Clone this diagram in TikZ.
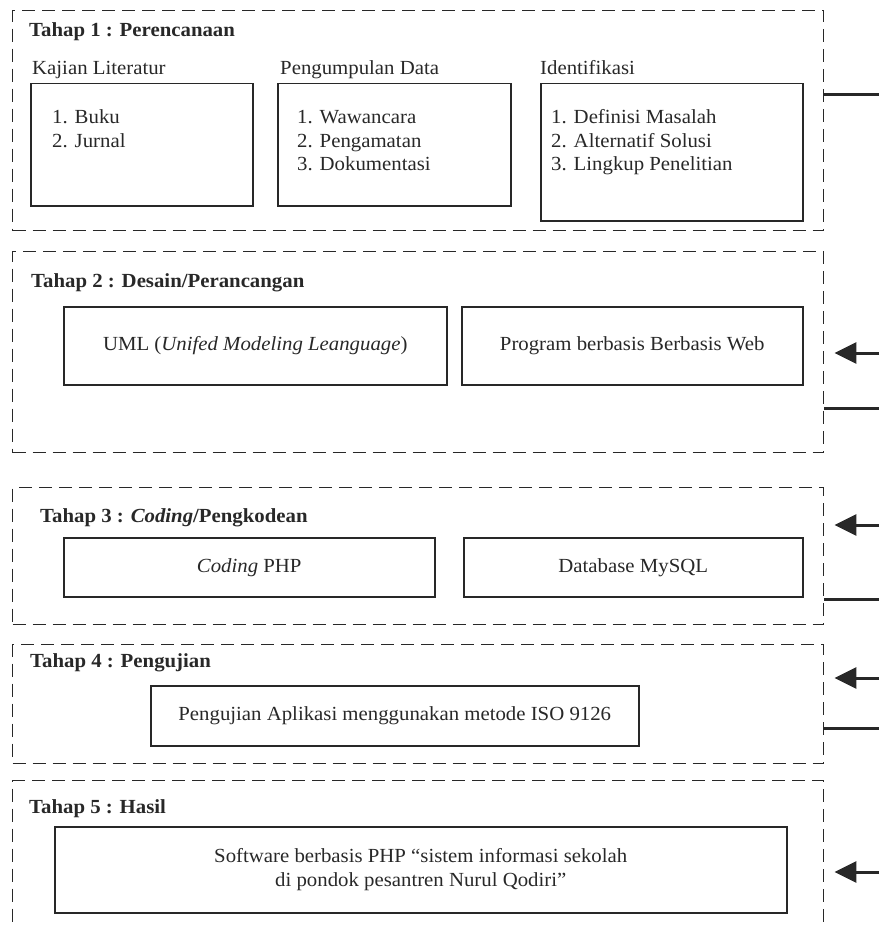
\documentclass[tikz,border=0pt]{standalone}
\usepackage{fontspec}
\setmainfont{Liberation Serif}[FakeStretch=1.04]
\usetikzlibrary{arrows.meta}
\definecolor{ink}{HTML}{282828}
\begin{document}
\begin{tikzpicture}[x=1pt,y=-1pt,
  every node/.style={font=\fontsize{20}{24}\selectfont, text=ink},
  phase/.style={draw=ink, line width=1.4pt, dash pattern=on 13pt off 7pt,
    rectangle, inner sep=0pt, anchor=north west},
  box/.style={draw=ink, line width=1.5pt, rectangle, inner sep=0pt, anchor=north west},
  ttl/.style={font=\fontsize{20}{24}\selectfont\bfseries, anchor=base west, inner sep=0pt},
  lbl/.style={anchor=base west, inner sep=0pt},
  link/.style={draw=ink, line width=3pt},
  arr/.style={draw=ink, line width=3pt, -{Triangle[length=22pt,width=21pt]}, shorten >=10pt}]
\clip (0,0) rectangle (879,928);
\useasboundingbox (0,0) rectangle (879,928);

% phase frames
\node[phase, minimum width=811, minimum height=220] (p1) at (12,10) {};
\node[phase, minimum width=811, minimum height=201] (p2) at (12,251) {};
\node[phase, minimum width=811, minimum height=137] (p3) at (12,487) {};
\node[phase, minimum width=811, minimum height=119] (p4) at (12,644) {};
\node[phase, minimum width=811, minimum height=170] (p5) at (12,780) {};

% titles
\node[ttl] (t1) at (29,37) {Tahap 1 : Perencanaan};
\node[ttl] (t2) at (31,287) {Tahap 2 : Desain/Perancangan};
\node[ttl] (t3) at (40,522) {Tahap 3 : \textit{Coding}/Pengkodean};
\node[ttl] (t4) at (30,667) {Tahap 4 : Pengujian};
\node[ttl] (t5) at (29,813) {Tahap 5 : Hasil};

% stage 1
\node[lbl] (s1) at (32,75) {Kajian Literatur};
\node[lbl] (s2) at (280,75) {Pengumpulan Data};
\node[lbl] (s3) at (540,75) {Identifikasi};
\node[box, minimum width=222, minimum height=122] (bA) at (30,83) {};
\node[box, minimum width=233, minimum height=122] (bB) at (277,83) {};
\node[box, minimum width=262, minimum height=137] (bC) at (540,83) {};
\node[lbl] (a1) at (52,124) {1. Buku};
\node[lbl] (a2) at (52,148) {2. Jurnal};
\node[lbl] (b1) at (297,124) {1. Wawancara};
\node[lbl] (b2) at (297,148) {2. Pengamatan};
\node[lbl] (b3) at (297,171) {3. Dokumentasi};
\node[lbl] (c1) at (551,124) {1. Definisi Masalah};
\node[lbl] (c2) at (551,148) {2. Alternatif Solusi};
\node[lbl] (c3) at (551,171) {3. Lingkup Penelitian};

% stage 2
\node[box, minimum width=383, minimum height=78] (uml) at (63,306) {UML (\textit{Unifed Modeling Leanguage})};
\node[box, minimum width=341, minimum height=78] (web) at (461,306) {Program berbasis Berbasis Web};

% stage 3
\node[box, minimum width=371, minimum height=59] (php) at (63,537) {\textit{Coding} PHP};
\node[box, minimum width=339, minimum height=59] (db) at (463,537) {Database MySQL};

% stage 4
\node[box, minimum width=488, minimum height=60] (iso) at (150,685) {Pengujian Aplikasi menggunakan metode ISO 9126};

% stage 5
\node[box, minimum width=732, minimum height=86, align=center] (sw) at (54,826)
  {Software berbasis PHP “sistem informasi sekolah\\ di pondok pesantren Nurul Qodiri”};

% right side connectors
\coordinate (r1) at (879,95);
\coordinate (r2a) at (879,353);
\coordinate (r2b) at (879,408);
\coordinate (r3a) at (879,525);
\coordinate (r3b) at (879,599);
\coordinate (r4a) at (879,678);
\coordinate (r4b) at (879,728);
\coordinate (r5a) at (879,872);

\draw[link] (p1.east |- r1) -- (r1);
\draw[arr] (r2a) -- (p2.east |- r2a);
\draw[link] (p2.east |- r2b) -- (r2b);
\draw[arr] (r3a) -- (p3.east |- r3a);
\draw[link] (p3.east |- r3b) -- (r3b);
\draw[arr] (r4a) -- (p4.east |- r4a);
\draw[link] (p4.east |- r4b) -- (r4b);
\draw[arr] (r5a) -- (p5.east |- r5a);
\end{tikzpicture}
\end{document}
